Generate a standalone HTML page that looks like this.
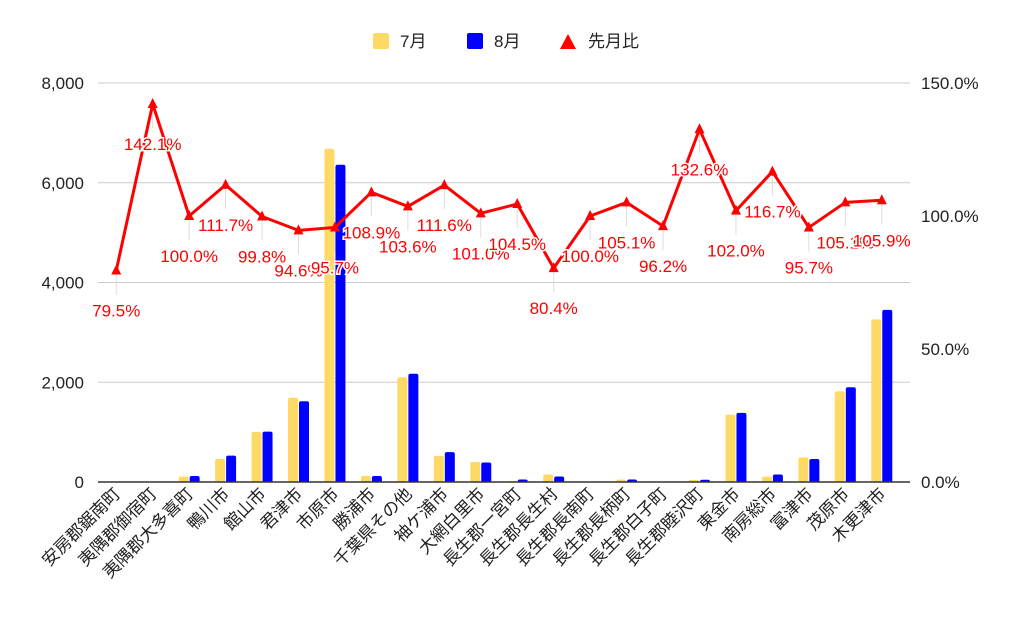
<!DOCTYPE html>
<html><head><meta charset="utf-8"><style>
body{margin:0;background:#fff;}
svg text{font-family:"Liberation Sans","Noto Sans CJK JP",sans-serif;}
</style></head><body>
<svg id="c" width="1024" height="633" viewBox="0 0 1024 633" xmlns="http://www.w3.org/2000/svg">
<g>
<rect x="373" y="33" width="16" height="16" rx="2" fill="#ffd966"/>
<text x="400" y="47" font-size="17" fill="#222">7月</text>
<rect x="467" y="33" width="16" height="16" rx="2" fill="#0000ff"/>
<text x="494" y="47" font-size="17" fill="#222">8月</text>
<polygon points="560,49 576,49 568,34" fill="#ff0000"/>
<text x="588" y="47" font-size="17" fill="#222">先月比</text>
</g>
<g id="grid"></g><g id="bars"></g><g id="line"></g><g id="xl"></g>
</svg>
<script>
const categories=["安房郡鋸南町","夷隅郡御宿町","夷隅郡大多喜町","鴨川市","館山市","君津市","市原市","勝浦市","千葉県その他","袖ケ浦市","大網白里市","長生郡一宮町","長生郡長生村","長生郡長南町","長生郡長柄町","長生郡白子町","長生郡睦沢町","東金市","南房総市","富津市","茂原市","木更津市"];
const july=[10,10,110,460,1005,1690,6680,120,2100,525,400,20,150,10,50,10,40,1350,110,490,1820,3260];
const august=[8,8,120,530,1010,1620,6360,120,2170,600,390,50,110,10,50,10,45,1385,150,460,1900,3450];
const ratio=[79.5,142.1,100.0,111.7,99.8,94.6,95.7,108.9,103.6,111.6,101.0,104.5,80.4,100.0,105.1,96.2,132.6,102.0,116.7,95.7,105.1,105.9];
const leftTicks=[0,2000,4000,6000,8000];
const leftTickLabels=["0","2,000","4,000","6,000","8,000"];
const rightTicks=[0,50,100,150];
const rightTickLabels=["0.0%","50.0%","100.0%","150.0%"];
const NS="http://www.w3.org/2000/svg";
const X0=98,X1=900,Y0=482,Y1=83;
const step=(X1-X0)/categories.length;
const xc=i=>X0+step*(i+0.5);
const yL=v=>Y0-(v/8000)*(Y0-Y1);
const yR=v=>Y0-(v/150)*(Y0-Y1);
function mk(tag,attrs,parent,txt){const e=document.createElementNS(NS,tag);for(const k in attrs)e.setAttribute(k,attrs[k]);if(txt!==undefined)e.textContent=txt;parent.appendChild(e);return e;}
const grid=document.getElementById('grid');
leftTicks.forEach((t,i)=>{
 if(t>0){const l=mk('line',{x1:X0,x2:X1+10,y1:yL(t),y2:yL(t),stroke:'#cccccc','stroke-width':1},grid);
 
 }
 const tx=mk('text',{x:84,y:yL(t)+6,'text-anchor':'end','font-size':17,fill:'#222'},grid,leftTickLabels[i]);
 
 
});
rightTicks.forEach((t,i)=>{
 const tx=mk('text',{x:921,y:yR(t)+6,'font-size':17,fill:'#222'},grid,rightTickLabels[i]);
 
 
});
const bars=document.getElementById('bars');
const bw=10;
function bar(x,v,col,name){
 const y=yL(v),h=Y0-y;
 const p=mk('path',{d:h>2?`M${x},${Y0}V${y+2}Q${x},${y} ${x+2},${y}H${x+bw-2}Q${x+bw},${y} ${x+bw},${y+2}V${Y0}Z`:`M${x},${Y0}V${y}H${x+bw}V${Y0}Z`,fill:col},bars);
 
 
}
categories.forEach((c,i)=>{bar(xc(i)-bw-0.5,july[i],'#ffd966','bar-july');bar(xc(i)+0.5,august[i],'#0000ff','bar-august');});
const base=mk('line',{x1:X0,x2:X1+10,y1:Y0,y2:Y0,stroke:'#333','stroke-width':1.5},bars);


const lg=document.getElementById('line');
ratio.forEach((v,i)=>{
 const ll=mk('line',{x1:xc(i),x2:xc(i),y1:yR(v)+4,y2:yR(v)+24,stroke:'#dddddd','stroke-width':1},lg);
 
 
});
const pl=mk('polyline',{points:ratio.map((v,i)=>xc(i)+','+yR(v)).join(' '),fill:'none',stroke:'#ff0000','stroke-width':3,'stroke-linejoin':'round'},lg);


ratio.forEach((v,i)=>{
 const x=xc(i),y=yR(v);
 const m=mk('polygon',{points:`${x-5},${y+4} ${x+5},${y+4} ${x},${y-6}`,fill:'#ff0000'},lg);
 
 
 const t=mk('text',{x:x,y:y+46,'text-anchor':'middle','font-size':17,fill:'#ff0000',stroke:'#fff','stroke-width':3,'paint-order':'stroke'},lg,v.toFixed(1)+'%');
 
 
});
const xl=document.getElementById('xl');
categories.forEach((c,i)=>{
 const x=xc(i)+5,y=495;
 const t=mk('text',{x:x,y:y,'text-anchor':'end','font-size':17,fill:'#222',transform:`rotate(-45 ${x} ${y})`},xl,c);
 
 
});
</script>
</body></html>
